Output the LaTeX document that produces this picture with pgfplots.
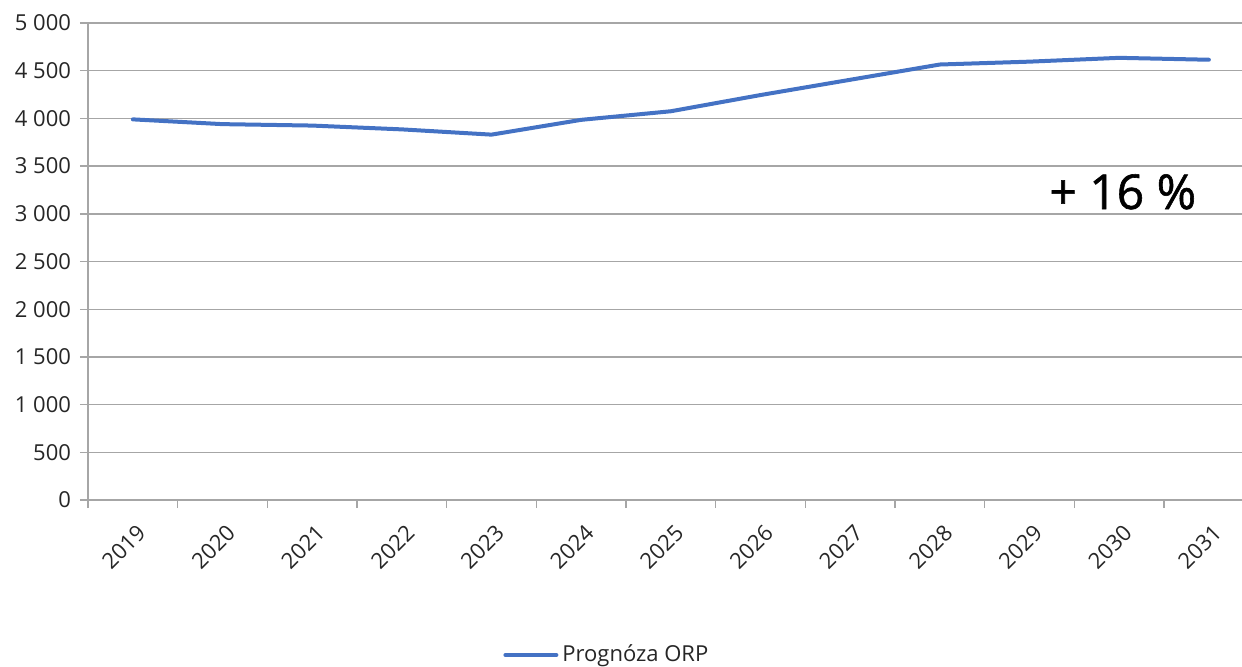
\documentclass[border=0pt]{standalone}
\usepackage{fontspec}
\setmainfont{Open Sans}
\newfontfamily\bigfont{Open Sans}[FakeBold=1.2]
\usepackage{pgfplots}
\pgfplotsset{compat=1.18}
\definecolor{lineblue}{HTML}{4472C4}
\definecolor{gridgray}{HTML}{A6A6A6}
\definecolor{txt}{HTML}{262626}
\begin{document}
\begin{tikzpicture}
\path[use as bounding box] (-44pt,-83pt) rectangle (577pt,250pt);
\begin{axis}[
  at={(0pt,0pt)}, anchor=south west,
  scale only axis,
  width=582.85pt, height=238.5pt,
  xmin=-0.5, xmax=12.5,
  ymin=0, ymax=5000,
  axis lines*=left,
  axis line style={gridgray, line width=0.7pt},
  ytick={0,500,...,5000},
  ymajorgrids,
  grid style={gridgray, line width=0.7pt},
  xtick={0,...,12},
  xticklabels={2019,2020,2021,2022,2023,2024,2025,2026,2027,2028,2029,2030,2031},
  minor xtick={-0.5,0.5,...,12.5},
  major tick length=4pt,
  minor tick length=4pt,
  tick align=outside,
  x tick style={draw=none},
  minor x tick style={draw=gridgray, line width=0.7pt},
  y tick style={gridgray, line width=0.7pt},
  tick label style={font=\fontsize{11}{13}\selectfont, text=txt},
  xticklabel style={rotate=45, anchor=north east, xshift=-1pt, yshift=-3pt},
  yticklabel style={xshift=-1pt},
  /pgf/number format/.cd, 1000 sep={\ }, assume math mode=true,
  /pgfplots/.cd,
  legend style={draw=none, at={(axis description cs:0.356,-0.325)}, anchor=west,
    font=\fontsize{11}{13}\selectfont, text=txt, inner sep=0pt},
  legend image code/.code={\draw[#1, line width=2pt] (0pt,0pt) -- (25.5pt,0pt);},
  clip=false,
]
\addplot[lineblue, line width=2pt, line join=round, line cap=round] coordinates {
  (0,3990) (1,3940) (2,3925) (3,3885) (4,3830) (5,3985) (6,4075)
  (7,4245) (8,4405) (9,4565) (10,4595) (11,4635) (12,4615)
};
\addlegendentry{Prognóza ORP}
\node[font=\bigfont\fontsize{24}{28}\selectfont, text=black] at (axis cs:11.04,3230) {+ 16 \%};
\end{axis}
\end{tikzpicture}
\end{document}
